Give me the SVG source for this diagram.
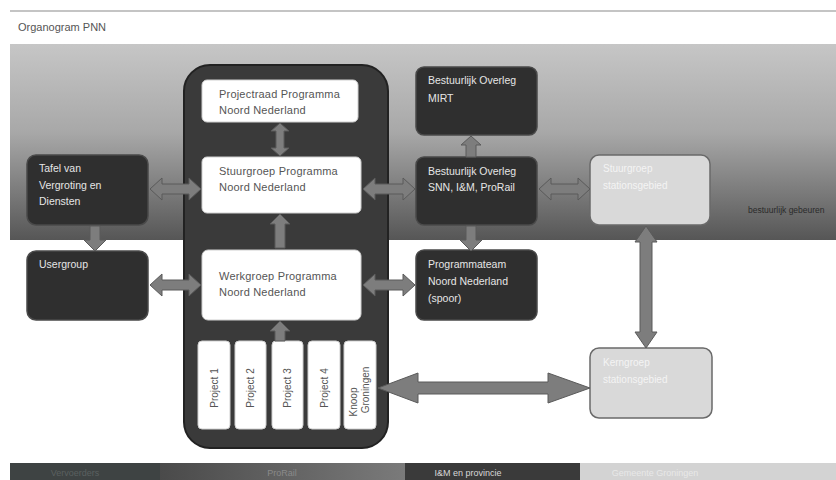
<svg xmlns="http://www.w3.org/2000/svg" width="836" height="480" viewBox="0 0 836 480">
<defs>
<linearGradient id="band" x1="0" y1="0" x2="0" y2="1">
<stop offset="0" stop-color="#c6c6c6"/>
<stop offset="0.45" stop-color="#a8a8a8"/>
<stop offset="0.8" stop-color="#747474"/>
<stop offset="1" stop-color="#565656"/>
</linearGradient>
<linearGradient id="seg2" x1="0" y1="0" x2="1" y2="0">
<stop offset="0" stop-color="#4a4a4a"/>
<stop offset="1" stop-color="#7a7a7a"/>
</linearGradient>
<style>
.t{font-family:"Liberation Sans","Open Sans",Arial,sans-serif;font-size:10px}
.dark rect{fill:#2f2f2f;stroke:#4a4a4a;stroke-width:1.5}
.dark text{fill:#e6e6e6;font-size:10.5px}
.white rect{fill:#ffffff;stroke:#cfcfcf;stroke-width:1}
.white text{fill:#555555;font-size:11px;letter-spacing:0.2px}
.light rect{fill:#d9d9d9;stroke:#6a6a6a;stroke-width:1.5}
.light text{fill:#f4f4f4}
.proj rect{fill:#ffffff;stroke:#cfcfcf;stroke-width:1}
.proj text{fill:#555555;font-size:10px}
#connectors polygon{fill:#7d7d7d;stroke:#5a5a5a;stroke-width:1}
.leg{font-family:"Liberation Sans","Open Sans",Arial,sans-serif;font-size:9px}
</style>
</defs>
<rect x="0" y="0" width="836" height="480" fill="#ffffff"/>
<line x1="10" y1="11" x2="836" y2="11" stroke="#8a8a8a" stroke-width="1.2"/>
<text class="t" x="18" y="31" fill="#555" style="font-size:11px">Organogram PNN</text>
<rect x="10" y="44" width="826" height="196" fill="url(#band)"/>
<text class="t" x="748" y="213" fill="#2a2a2a" style="font-size:8.5px">bestuurlijk gebeuren</text>

<g id="programma">
<rect x="184" y="65" width="204" height="383" rx="26" fill="#3a3a3a" stroke="#222" stroke-width="2"/>
</g>
<g id="projectraad" class="white t">
<rect x="202" y="80" width="156" height="42" rx="5"/>
<text x="219" y="98">Projectraad Programma</text>
<text x="219" y="114">Noord Nederland</text>
</g>
<g id="stuurgroep" class="white t">
<rect x="202" y="157" width="159" height="56" rx="5"/>
<text x="219" y="175">Stuurgroep Programma</text>
<text x="219" y="191">Noord Nederland</text>
</g>
<g id="werkgroep" class="white t">
<rect x="202" y="250" width="159" height="70" rx="6"/>
<text x="219" y="280">Werkgroep Programma</text>
<text x="219" y="296">Noord Nederland</text>
</g>
<g id="project1" class="proj t">
<rect x="198" y="341" width="32" height="88" rx="4"/>
<text transform="translate(218,388) rotate(-90)" text-anchor="middle">Project 1</text>
</g>
<g id="project2" class="proj t">
<rect x="235" y="341" width="31" height="88" rx="4"/>
<text transform="translate(254,388) rotate(-90)" text-anchor="middle">Project 2</text>
</g>
<g id="project3" class="proj t">
<rect x="272" y="341" width="31" height="88" rx="4"/>
<text transform="translate(291,388) rotate(-90)" text-anchor="middle">Project 3</text>
</g>
<g id="project4" class="proj t">
<rect x="308" y="341" width="32" height="88" rx="4"/>
<text transform="translate(328,388) rotate(-90)" text-anchor="middle">Project 4</text>
</g>
<g id="knoop" class="proj t">
<rect x="344" y="341" width="32" height="88" rx="4"/>
<text transform="translate(357,402) rotate(-90)" text-anchor="middle">Knoop</text>
<text transform="translate(369,390) rotate(-90)" text-anchor="middle">Groningen</text>
</g>

<g id="tafel" class="dark t">
<rect x="27" y="155" width="121" height="70" rx="9"/>
<text x="39" y="172">Tafel van</text>
<text x="39" y="189">Vergroting en</text>
<text x="39" y="205">Diensten</text>
</g>
<g id="usergroup" class="dark t">
<rect x="27" y="251" width="121" height="69" rx="9"/>
<text x="39" y="268">Usergroup</text>
</g>
<g id="mirt" class="dark t">
<rect x="416" y="67" width="121" height="68" rx="8"/>
<text x="428" y="84">Bestuurlijk Overleg</text>
<text x="428" y="102">MIRT</text>
</g>
<g id="snn" class="dark t">
<rect x="416" y="157" width="121" height="68" rx="8"/>
<text x="428" y="175">Bestuurlijk Overleg</text>
<text x="428" y="191">SNN, I&amp;M, ProRail</text>
</g>
<g id="programmateam" class="dark t">
<rect x="416" y="250" width="121" height="70" rx="8"/>
<text x="428" y="268">Programmateam</text>
<text x="428" y="285">Noord Nederland</text>
<text x="428" y="302">(spoor)</text>
</g>
<g id="stuurgroep-stationsgebied" class="light t">
<rect x="590" y="155" width="120" height="70" rx="9"/>
<text x="603" y="172">Stuurgroep</text>
<text x="603" y="189">stationsgebied</text>
</g>
<g id="kerngroep-stationsgebied" class="light t">
<rect x="590" y="348" width="122" height="70" rx="9"/>
<text x="603" y="366">Kerngroep</text>
<text x="603" y="383">stationsgebied</text>
</g>

<g id="connectors">
<polygon points="150,189 162,178 162,184 189,184 189,178 201,189 189,200 189,194 162,194 162,200"/>
<polygon points="150,285 162,274 162,280 189,280 189,274 201,285 189,296 189,290 162,290 162,296"/>
<polygon points="363,189 375,178 375,184 403,184 403,178 415,189 403,200 403,194 375,194 375,200"/>
<polygon points="363,285 375,274 375,280 403,280 403,274 415,285 403,296 403,290 375,290 375,296"/>
<polygon points="539,189 551,178 551,184 578,184 578,178 590,189 578,200 578,194 551,194 551,200"/>
<polygon points="280,123 289,131 284,131 284,148 289,148 280,156 271,148 276,148 276,131 271,131"/>
<polygon points="280,214 290,224 285,224 285,248 275,248 275,224 270,224"/>
<polygon points="280,321 290,331 285,331 285,341 275,341 275,331 270,331"/>
<polygon points="90,226 100,226 100,240 106,240 95,251 84,240 90,240"/>
<polygon points="471,136 481,145 476,145 476,157 466,157 466,145 461,145"/>
<polygon points="466,226 476,226 476,240 482,240 471,251 460,240 466,240"/>
<polygon points="646,226 657,242 652,242 652,332 657,332 646,348 635,332 640,332 640,242 635,242"/>
<polygon points="378,388 418,373 418,382 548,382 548,373 590,388 548,403 548,394 418,394 418,403"/>
</g>

<g id="legend">
<rect x="10" y="463" width="150" height="17" fill="#3e4343"/>
<rect x="160" y="463" width="245" height="17" fill="url(#seg2)"/>
<rect x="405" y="463" width="175" height="17" fill="#3a3a3a"/>
<rect x="580" y="463" width="256" height="17" fill="#d3d3d3"/>
<text class="leg" x="75" y="476" fill="#5a6060" text-anchor="middle">Vervoerders</text>
<text class="leg" x="282" y="476" fill="#8a8a8a" text-anchor="middle">ProRail</text>
<text class="leg" x="468" y="476" fill="#d8d8d8" text-anchor="middle">I&amp;M en provincie</text>
<text class="leg" x="655" y="476" fill="#e8e8e8" text-anchor="middle">Gemeente Groningen</text>
</g>
</svg>
